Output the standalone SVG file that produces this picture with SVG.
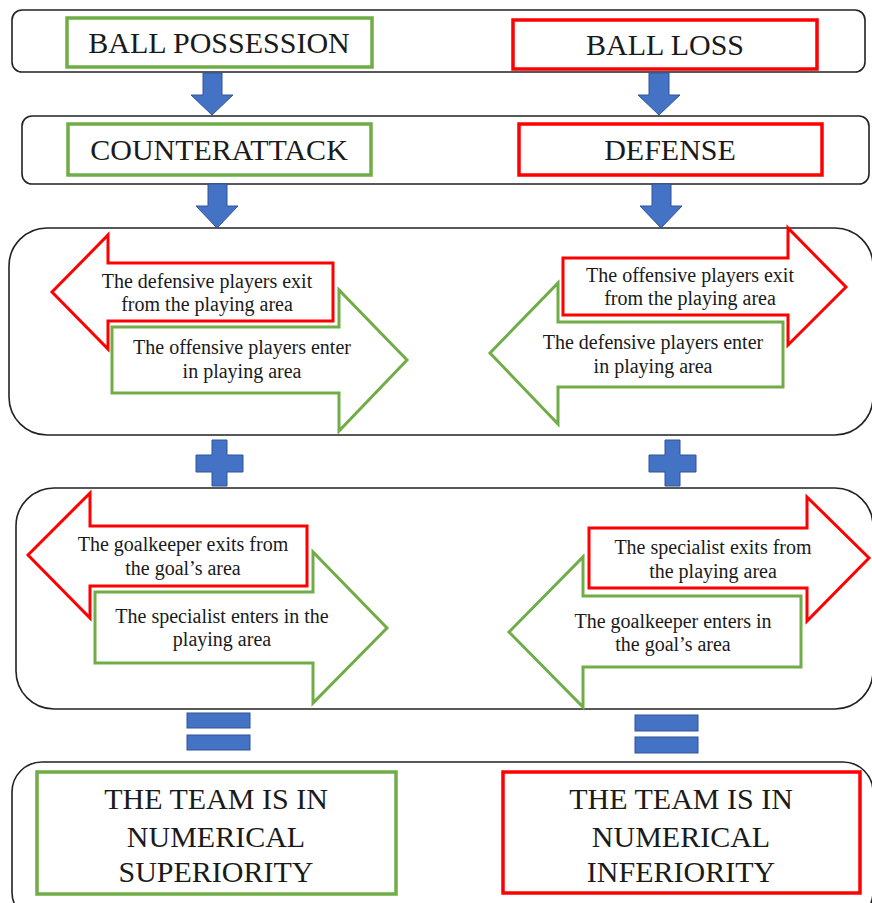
<svg xmlns="http://www.w3.org/2000/svg" width="872" height="903" viewBox="0 0 872 903">
<style>
.panel{fill:#fff;stroke:#222;stroke-width:1.6}
.g{fill:#fff;stroke:#70AD47;stroke-width:3.5}
.r{fill:#fff;stroke:#FF0000;stroke-width:3.5}
.ga{fill:#fff;stroke:#70AD47;stroke-width:3;stroke-linejoin:miter}
.ra{fill:#fff;stroke:#FF0000;stroke-width:3;stroke-linejoin:miter}
.blue{fill:#4472C4;stroke:#2F5597;stroke-width:1}
text{font-family:"Liberation Serif","Times New Roman",serif;fill:#1a1a1a;text-anchor:middle}
.big{font-size:30px}
.sm{font-size:20px}
.xl{font-size:30px}
</style>
<rect width="872" height="903" fill="#fff"/>
<g id="row1">
<rect class="panel" x="12" y="10" width="853" height="62" rx="10"/>
</g>
<g id="ball-possession">
<rect class="g" x="67" y="18" width="305" height="49"/>
<text class="big" x="219" y="53">BALL POSSESSION</text>
</g>
<g id="ball-loss">
<rect class="r" x="513" y="20" width="304" height="49"/>
<text class="big" x="665" y="55">BALL LOSS</text>
</g>
<g id="row2">
<rect class="panel" x="22" y="116" width="847" height="68" rx="10"/>
</g>
<g id="counterattack">
<rect class="g" x="68" y="124" width="303" height="51"/>
<text class="big" x="219" y="160">COUNTERATTACK</text>
</g>
<g id="defense">
<rect class="r" x="519" y="124" width="303" height="51"/>
<text class="big" x="670" y="160">DEFENSE</text>
</g>
<g id="row3">
<rect class="panel" x="9" y="228" width="864" height="207" rx="38"/>
</g>
<g id="defensive-exit">
<polygon class="ra" points="52,292 108,235 108,263 333,263 333,321 108,321 108,349"/>
<text class="sm" x="207" y="288">The defensive players exit</text>
<text class="sm" x="207" y="311">from the playing area</text>
</g>
<g id="offensive-enter">
<polygon class="ga" points="112,327 339,327 339,290 407,360 339,431 339,393 112,393"/>
<text class="sm" x="242" y="354">The offensive players enter</text>
<text class="sm" x="242" y="378">in playing area</text>
</g>
<g id="offensive-exit">
<polygon class="ra" points="563,258 788,258 788,228 846,287 788,345 788,315 563,315"/>
<text class="sm" x="690" y="282">The offensive players exit</text>
<text class="sm" x="690" y="305">from the playing area</text>
</g>
<g id="defensive-enter">
<polygon class="ga" points="490,353 558,283 558,322 783,322 783,387 558,387 558,424"/>
<text class="sm" x="653" y="349">The defensive players enter</text>
<text class="sm" x="653" y="373">in playing area</text>
</g>
<g id="row4">
<rect class="panel" x="16" y="488" width="857" height="221" rx="38"/>
</g>
<g id="goalkeeper-exit">
<polygon class="ra" points="28,555 90,493 90,526 307,526 307,586 90,586 90,618"/>
<text class="sm" x="183" y="551">The goalkeeper exits from</text>
<text class="sm" x="183" y="575">the goal’s area</text>
</g>
<g id="specialist-enter">
<polygon class="ga" points="95,592 313,592 313,552 387,628 313,703 313,663 95,663"/>
<text class="sm" x="222" y="623">The specialist enters in the</text>
<text class="sm" x="222" y="646">playing area</text>
</g>
<g id="specialist-exit">
<polygon class="ra" points="589,528 807,528 807,497 869,558 807,621 807,588 589,588"/>
<text class="sm" x="713" y="554">The specialist exits from</text>
<text class="sm" x="713" y="578">the playing area</text>
</g>
<g id="goalkeeper-enter">
<polygon class="ga" points="509,632 583,557 583,596 801,596 801,667 583,667 583,707"/>
<text class="sm" x="673" y="628">The goalkeeper enters in</text>
<text class="sm" x="673" y="651">the goal’s area</text>
</g>
<g id="row5">
<rect class="panel" x="12" y="762" width="861" height="160" rx="30"/>
</g>
<g id="superiority">
<rect class="g" x="37" y="772" width="359" height="122"/>
<text class="xl" x="216" y="809">THE TEAM IS IN</text>
<text class="xl" x="216" y="847">NUMERICAL</text>
<text class="xl" x="216" y="882">SUPERIORITY</text>
</g>
<g id="inferiority">
<rect class="r" x="503" y="772" width="357" height="121"/>
<text class="xl" x="681" y="809">THE TEAM IS IN</text>
<text class="xl" x="681" y="847">NUMERICAL</text>
<text class="xl" x="681" y="882">INFERIORITY</text>
</g>
<g id="connectors">
<polygon class="blue" points="203,73 222,73 222,95 233,95 212,115 191,95 203,95"/>
<polygon class="blue" points="649,73 669,73 669,95 680,95 659,115 638,95 649,95"/>
<polygon class="blue" points="208,184 227,184 227,206 238,206 217,228 196,206 208,206"/>
<polygon class="blue" points="652,184 671,184 671,206 682,206 661,228 640,206 652,206"/>
<polygon class="blue" points="212,440 227,440 227,455 243,455 243,472 227,472 227,486 212,486 212,472 196,472 196,455 212,455"/>
<polygon class="blue" points="665,440 680,440 680,455 696,455 696,472 680,472 680,486 665,486 665,472 649,472 649,455 665,455"/>
<rect class="blue" x="187" y="713" width="63" height="15"/>
<rect class="blue" x="187" y="735" width="63" height="15"/>
<rect class="blue" x="635" y="715" width="63" height="16"/>
<rect class="blue" x="635" y="737" width="63" height="16"/>
</g>
</svg>
